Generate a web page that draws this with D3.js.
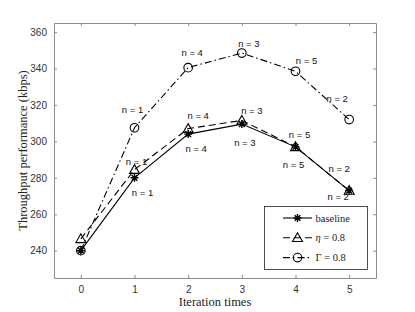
<!DOCTYPE html>
<html>
<head>
<meta charset="utf-8">
<script src="https://cdn.jsdelivr.net/npm/d3@7"></script>
<style>
  body { margin: 0; background: #fff; }
  svg { display: block; }
</style>
</head>
<body>
<script>
const width = 415, height = 312;

// data
const iterations = [0, 1, 2, 3, 4, 5];
const baseline = [240, 280, 304, 309.5, 297, 273];
const eta = [246.5, 284.5, 307, 311.5, 297, 273];
const gamma = [240, 307.5, 340.5, 348.5, 338.5, 312];
const yTicks = [240, 260, 280, 300, 320, 340, 360];
const nBaseline = ["n = 1", "n = 4", "n = 3", "n = 5", "n = 2"];
const nEta = ["n = 1", "n = 4", "n = 3", "n = 5", "n = 2"];
const nGamma = ["n = 1", "n = 4", "n = 3", "n = 5", "n = 2"];

const margin = { left: 54, top: 23, right: 39, bottom: 34 };

const x = d3.scaleLinear().domain([-0.5, 5.5]).range([margin.left, width - margin.right]);
const y = d3.scaleLinear().domain([225, 365]).range([height - margin.bottom, margin.top]);

const svg = d3.select("body").append("svg")
    .attr("width", width)
    .attr("height", height)
    .attr("viewBox", [0, 0, width, height]);

const axisColor = "#8c8c8c";
const tickFont = "'Liberation Sans', Arial, sans-serif";
const serif = "'Liberation Serif', 'DejaVu Serif', serif";

// box + inward ticks on all sides
function styleAxis(g) {
    g.select(".domain").attr("stroke", axisColor);
    g.selectAll(".tick line").attr("stroke", axisColor);
    g.selectAll(".tick text").attr("fill", "#333").style("font-family", tickFont).style("font-size", "10px");
}
svg.append("g").attr("transform", `translate(0,${y.range()[0]})`)
    .call(d3.axisBottom(x).tickValues(iterations).tickFormat(d3.format("d")).tickSizeInner(-3).tickSizeOuter(0).tickPadding(8))
    .call(styleAxis);
svg.append("g").attr("transform", `translate(0,${y.range()[1]})`)
    .call(d3.axisTop(x).tickValues(iterations).tickSizeInner(-3).tickSizeOuter(0).tickFormat(""))
    .call(styleAxis);
svg.append("g").attr("transform", `translate(${x.range()[0]},0)`)
    .call(d3.axisLeft(y).tickValues(yTicks).tickSizeInner(-3).tickSizeOuter(0).tickPadding(7))
    .call(styleAxis);
svg.append("g").attr("transform", `translate(${x.range()[1]},0)`)
    .call(d3.axisRight(y).tickValues(yTicks).tickSizeInner(-3).tickSizeOuter(0).tickFormat(""))
    .call(styleAxis);

// axis titles
svg.append("text")
    .attr("x", (x.range()[0] + x.range()[1]) / 2)
    .attr("y", 306)
    .attr("text-anchor", "middle")
    .style("font-family", serif).style("font-size", "12.5px")
    .attr("fill", "#222")
    .text("Iteration times");
svg.append("text")
    .attr("transform", `translate(27,${(y.range()[0] + y.range()[1]) / 2}) rotate(-90)`)
    .attr("text-anchor", "middle")
    .style("font-family", serif).style("font-size", "12.5px")
    .attr("fill", "#222")
    .text("Throughput performance (kbps)");

const series = [
    { values: gamma, dash: "7,3,1.5,3", marker: "circle" },
    { values: eta, dash: "7,4", marker: "triangle" },
    { values: baseline, dash: null, marker: "star" }
];

const line = d3.line().x((d, i) => x(iterations[i])).y(d => y(d));

function drawMarker(g, kind, cx, cy) {
    if (kind === "circle") {
        g.append("circle").attr("cx", cx).attr("cy", cy).attr("r", 4.3)
            .attr("fill", "none").attr("stroke", "#000").attr("stroke-width", 1.1);
    } else if (kind === "triangle") {
        const s = 5;
        g.append("path")
            .attr("d", `M${cx},${cy - s}L${cx + s},${cy + s * 0.75}L${cx - s},${cy + s * 0.75}Z`)
            .attr("fill", "none").attr("stroke", "#000").attr("stroke-width", 1.1);
    } else {
        const r = 4;
        let d = "";
        for (let k = 0; k < 4; k++) {
            const a = k * Math.PI / 4;
            d += `M${cx - r * Math.cos(a)},${cy - r * Math.sin(a)}L${cx + r * Math.cos(a)},${cy + r * Math.sin(a)}`;
        }
        g.append("path").attr("d", d).attr("stroke", "#000").attr("stroke-width", 1.4);
    }
}

series.forEach(s => {
    svg.append("path")
        .datum(s.values)
        .attr("d", line)
        .attr("fill", "none")
        .attr("stroke", "#000")
        .attr("stroke-width", 1.1)
        .attr("stroke-dasharray", s.dash);
    const g = svg.append("g");
    s.values.forEach((v, i) => drawMarker(g, s.marker, x(iterations[i]), y(v)));
});

// n labels (dx, dy offsets in px relative to point, dy to text baseline)
function nLabels(values, labels, offsets) {
    labels.forEach((t, k) => {
        const i = k + 1;
        svg.append("text")
            .attr("x", x(iterations[i]) + offsets[k][0])
            .attr("y", y(values[i]) + offsets[k][1])
            .attr("text-anchor", "middle")
            .style("font-family", tickFont).style("font-size", "9.5px")
            .attr("fill", "#111")
            .text(t);
    });
}
nLabels(gamma, nGamma, [[-2, -14.5], [4, -12], [7, -6], [11, -7.5], [-12, -18]]);
nLabels(eta, nEta, [[2, -4.5], [10, -9.5], [10, -6.5], [4, -9], [-10, -18.5]]);
nLabels(baseline, nBaseline, [[8, 18], [8, 18], [3, 21.5], [-2, 21], [-11, 9.5]]);

// legend
const lg = svg.append("g");
lg.append("rect").attr("x", 264.5).attr("y", 206.5).attr("width", 103).attr("height", 63)
    .attr("fill", "#fff").attr("stroke", "#222").attr("stroke-width", 0.8);
const legendItems = [
    { sym: "", label: "baseline", dash: null, marker: "star" },
    { sym: "η", label: " = 0.8", dash: "7,4", marker: "triangle" },
    { sym: "", label: "Γ = 0.8", dash: "7,3,1.5,3", marker: "circle" }
];
legendItems.forEach((it, k) => {
    const ly = 218 + k * 19.8;
    lg.append("line").attr("x1", 283).attr("x2", 312).attr("y1", ly).attr("y2", ly)
        .attr("stroke", "#000").attr("stroke-width", 1.1).attr("stroke-dasharray", it.dash);
    drawMarker(lg, it.marker, 297.5, ly);
    const txt = lg.append("text").attr("x", 315.5).attr("y", ly + 3.5)
        .style("font-family", serif).style("font-size", "10.5px").attr("fill", "#222");
    if (it.sym) txt.append("tspan").style("font-style", "italic").text(it.sym);
    txt.append("tspan").text(it.label);
});
</script>
</body>
</html>
